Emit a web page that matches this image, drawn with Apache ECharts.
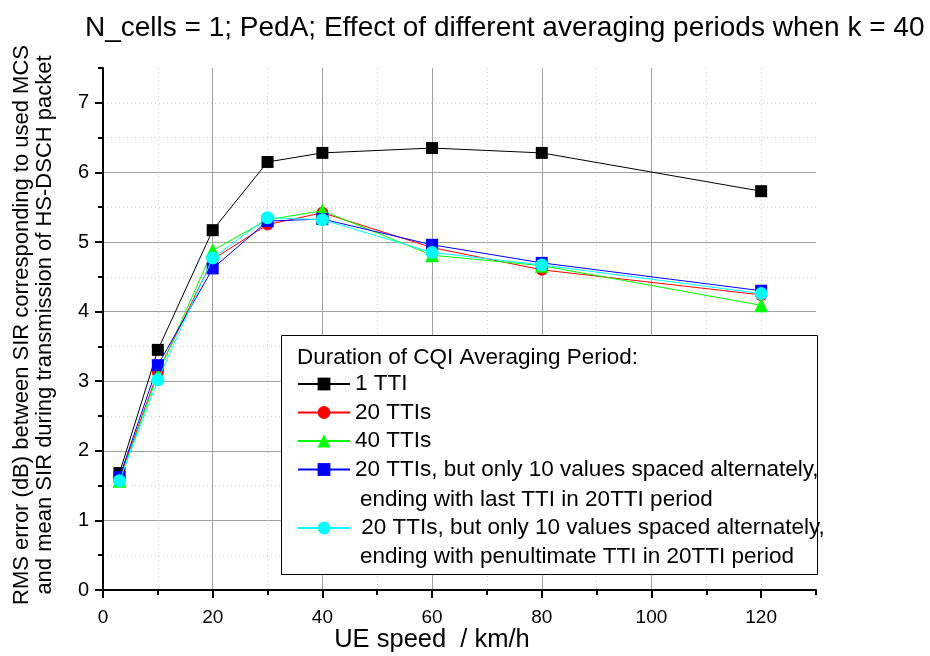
<!DOCTYPE html>
<html><head><meta charset="utf-8">
<script src="https://cdn.jsdelivr.net/npm/echarts@6/dist/echarts.min.js"></script>
<style>html,body{margin:0;padding:0;background:#fff}#c{width:930px;height:656px}</style>
</head><body><div id="c"></div>
<script>
var speeds = [3, 10, 20, 30, 40, 60, 80, 120];
var names = ["1 TTI", "20 TTIs", "40 TTIs",
  "20 TTIs, but only 10 values spaced alternately,",
  " 20 TTIs, but only 10 values spaced alternately,"];
var tti1  = [1.68, 3.45, 5.17, 6.15, 6.28, 6.35, 6.28, 5.73];
var tti20 = [1.60, 3.13, 4.75, 5.25, 5.42, 4.92, 4.60, 4.24];
var tti40 = [1.57, 3.10, 4.88, 5.32, 5.45, 4.81, 4.66, 4.09];
var altLast = [1.62, 3.23, 4.62, 5.30, 5.33, 4.96, 4.70, 4.30];
var altPen  = [1.57, 3.02, 4.77, 5.35, 5.32, 4.85, 4.67, 4.26];
var xMajorTicks = [0, 20, 40, 60, 80, 100, 120];
var yMajorTicks = [0, 1, 2, 3, 4, 5, 6, 7];
var secondLines = ["ending with last TTI in 20TTI period", "ending with penultimate TTI in 20TTI period"];
var titleText = "N_cells = 1; PedA; Effect of different averaging periods when k = 40";
var yTitle = "RMS error (dB) between SIR corresponding to used MCS\nand mean SIR during transmission of HS-DSCH packet";
var xTitle = "UE speed  / km/h";
var legendHeader = "Duration of CQI Averaging Period:";

function pairs(v){ return speeds.map(function(s,i){ return [s, v[i]]; }); }
var styles = [
  {c:'#000000', sym:'rect', size:12},
  {c:'#ff0000', sym:'circle', size:12},
  {c:'#00ff00', sym:'triangle', size:14},
  {c:'#0000ff', sym:'rect', size:12},
  {c:'#00ffff', sym:'circle', size:13}
];
var vals = [tti1, tti20, tti40, altLast, altPen];
var series = vals.map(function(v,i){
  return {
    name: names[i], type:'line', xAxisIndex:1, yAxisIndex:1,
    data: pairs(v), symbol: styles[i].sym, symbolSize: styles[i].size,
    lineStyle:{color:styles[i].c, width:1}, itemStyle:{color:styles[i].c},
    emphasis:{disabled:true}, animation:false, z: 2 + i
  };
});
var ff = 'Liberation Sans, Arial, sans-serif';
var chart = echarts.init(document.getElementById('c'), null, {renderer:'canvas'});
chart.setOption({
  backgroundColor:'#fff',
  animation:false,
  title:{text:titleText, left:80, top:9, textStyle:{fontFamily:ff, fontSize:28, fontWeight:'normal', color:'#000'}},
  grid: {left:103, right:114, top:68, bottom:66},
  xAxis:[
    {type:'value', position:'bottom', min:0, max:130, interval:10, axisLine:{show:false},
     axisTick:{show:true, length:5, lineStyle:{color:'#000', width:2}}, axisLabel:{show:false},
     splitLine:{show:true, showMinLine:false, showMaxLine:false, lineStyle:{color:'#cfcfcf', type:[1,3], width:1}}},
    {type:'value', position:'bottom', min:0, max:130, interval:20,
     axisLine:{show:true, onZero:false, lineStyle:{color:'#000', width:2}},
     axisTick:{show:true, length:8, customValues:xMajorTicks, lineStyle:{color:'#000', width:2}},
     axisLabel:{show:true, showMaxLabel:false, margin:18, fontFamily:ff, fontSize:19, color:'#000'},
     splitLine:{show:true, showMinLine:false, showMaxLine:false, lineStyle:{color:'#a0a0a0', width:1}}}
  ],
  yAxis:[
    {type:'value', position:'left', min:0, max:7.5, interval:0.5, axisLine:{show:false},
     axisTick:{show:true, length:5, lineStyle:{color:'#000', width:2}}, axisLabel:{show:false},
     splitLine:{show:true, showMinLine:false, showMaxLine:false, lineStyle:{color:'#cfcfcf', type:[1,3], width:1}}},
    {type:'value', position:'left', min:0, max:7.5, interval:1,
     axisLine:{show:true, onZero:false, lineStyle:{color:'#000', width:2}},
     axisTick:{show:true, length:8, customValues:yMajorTicks, lineStyle:{color:'#000', width:2}},
     axisLabel:{show:true, showMaxLabel:false, margin:14, fontFamily:ff, fontSize:20, color:'#000'},
     splitLine:{show:true, showMinLine:false, showMaxLine:false, lineStyle:{color:'#a0a0a0', width:1}}}
  ],
  legend:[
    {data:names.slice(0,4), orient:'vertical', left:297, top:370, padding:0, itemGap:0.5,
     itemWidth:52, itemHeight:16, selectedMode:false,
     textStyle:{fontFamily:ff, fontSize:22.5, color:'#000', lineHeight:28}},
    {data:names.slice(4), orient:'vertical', left:297, top:514, padding:0, itemGap:0,
     itemWidth:52, itemHeight:16, selectedMode:false,
     textStyle:{fontFamily:ff, fontSize:22.5, color:'#000', lineHeight:28}}
  ],
  graphic:[
    {type:'rect', z:3, shape:{x:281.5, y:335.5, width:536, height:239}, style:{fill:'#fff', stroke:'#000', lineWidth:1}},
    {type:'text', z:5, x:297, y:358, style:{text:legendHeader, font:'22.5px '+ff, fill:'#000', verticalAlign:'middle'}},
    {type:'text', z:5, x:360, y:500, style:{text:secondLines[0], font:'22.5px '+ff, fill:'#000', verticalAlign:'middle'}},
    {type:'text', z:5, x:360, y:557, style:{text:secondLines[1], font:'22.5px '+ff, fill:'#000', verticalAlign:'middle'}},
    {type:'text', z:5, x:33, y:325, rotation:Math.PI/2, style:{text:yTitle, font:'22px '+ff, fill:'#000', align:'center', verticalAlign:'middle', lineHeight:23}},
    {type:'text', z:5, x:432, y:640, style:{text:xTitle, font:'25.5px '+ff, fill:'#000', align:'center', verticalAlign:'middle'}}
  ],
  series: series
});
</script></body></html>
